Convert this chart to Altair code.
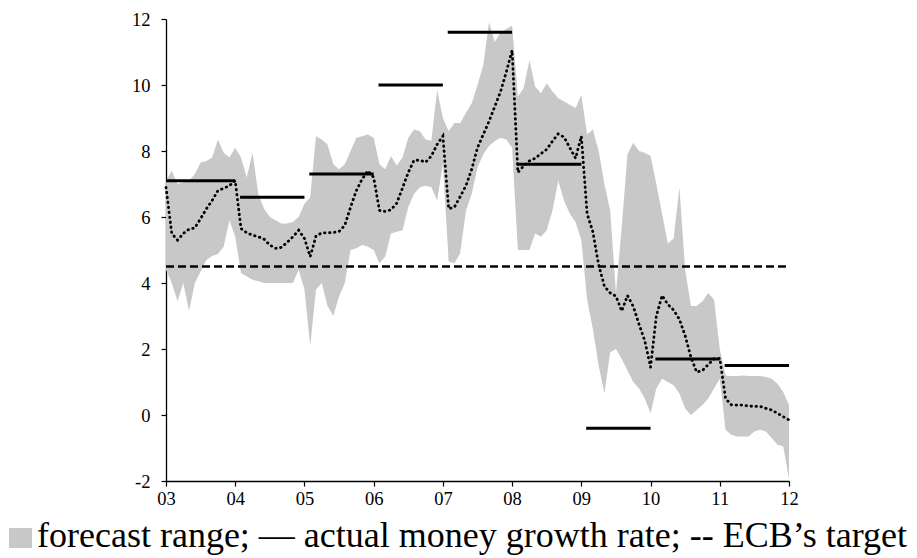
import altair as alt
import pandas as pd

# ---- data (monthly, Jan 2003 .. Jan 2012) ----
month_index = list(range(109))

forecast_high = [
    7.1, 7.4, 7.0, 7.05, 7.1, 7.3, 7.65, 7.7, 7.8, 8.35, 7.95, 7.8,
    8.1, 7.8, 7.2, 7.95, 6.7, 6.25, 6.0, 5.9, 5.8, 5.8, 5.85, 6.0,
    6.4, 6.6, 8.45, 8.35, 8.2, 7.6, 7.45, 7.6, 8.0, 8.4, 8.45, 8.5,
    8.4, 7.6, 7.45, 7.85, 7.55, 7.8, 8.4, 8.65, 8.6, 8.35, 8.3, 9.85,
    9.0, 8.6, 8.85, 8.85, 9.15, 9.45, 10.0, 10.6, 11.9, 11.3, 11.6, 11.7,
    11.8, 9.65, 9.9, 10.75, 9.95, 9.75, 10.05, 9.8, 9.6, 9.5, 9.4, 9.3,
    9.7, 8.5, 8.65, 8.0, 7.0, 6.2, 3.7, 5.7, 7.9, 8.25, 8.0, 7.95,
    7.85, 7.0, 6.1, 5.2, 5.35, 6.9, 4.4, 3.3, 3.3, 3.45, 3.7, 3.5,
    2.0, 1.2, 1.18, 1.18, 1.2, 1.18, 1.18, 1.18, 1.15, 1.1, 0.95, 0.7,
    0.3,
]

forecast_low = [
    4.4, 4.0, 3.45, 4.0, 3.15, 4.0, 4.35, 4.7, 4.82, 4.88, 5.1, 5.9,
    5.4, 4.3, 4.2, 4.1, 4.05, 4.0, 4.0, 4.0, 4.0, 4.0, 4.0, 4.4,
    3.8, 2.1, 3.8, 4.0, 3.3, 3.0, 3.6, 4.0, 5.0, 5.05, 5.15, 5.1,
    5.0, 4.6, 4.8, 5.5, 5.55, 5.6, 6.3, 6.7, 6.9, 6.95, 6.9, 6.5,
    7.6, 4.65, 4.6, 4.9, 6.2, 6.7, 7.5, 7.9, 8.15, 8.3, 8.4, 8.35,
    8.1, 5.0, 5.0, 5.0, 5.5, 5.4, 5.6, 6.2, 7.1, 6.5, 6.1, 5.85,
    5.3, 3.5, 2.6, 1.5, 0.65, 1.9, 2.0, 1.7, 1.35, 1.0, 0.8, 0.5,
    0.05, 0.8, 1.1, 1.0, 0.9, 0.65, 0.2, 0.0, 0.15, 0.3, 0.5, 0.8,
    1.1, -0.45, -0.6, -0.65, -0.65, -0.65, -0.5, -0.45, -0.5, -0.7, -0.9, -0.95,
    -1.95,
]

forecast_mean = [
    6.9, 5.5, 5.3, 5.5, 5.63, 5.67, 5.95, 6.25, 6.5, 6.8, 6.87, 6.95,
    7.1, 5.65, 5.52, 5.45, 5.4, 5.33, 5.15, 5.05, 5.08, 5.23, 5.4, 5.6,
    5.35, 4.8, 5.42, 5.52, 5.52, 5.53, 5.56, 5.75, 6.3, 6.8, 7.15, 7.4,
    7.2, 6.2, 6.17, 6.22, 6.42, 6.88, 7.35, 7.72, 7.72, 7.66, 7.85, 8.2,
    8.45, 6.25, 6.3, 6.62, 6.95, 7.45, 8.1, 8.5, 8.9, 9.35, 9.8, 10.4,
    11.05, 7.35, 7.55, 7.7, 7.78, 7.92, 8.05, 8.3, 8.52, 8.42, 8.1, 7.78,
    8.45, 6.1, 5.55, 4.55, 3.9, 3.7, 3.6, 3.15, 3.62, 3.29, 2.75, 2.25,
    1.45, 3.0, 3.62, 3.35, 3.18, 2.9, 2.4, 1.75, 1.3, 1.35, 1.53, 1.7,
    1.72, 0.5, 0.31, 0.3, 0.3, 0.27, 0.26, 0.26, 0.2, 0.15, 0.05, -0.05,
    -0.15,
]

years = [2003, 2004, 2005, 2006, 2007, 2008, 2009, 2010, 2011]
actual_growth = [7.1, 6.6, 7.3, 10.0, 11.6, 7.6, -0.4, 1.7, 1.5]
ecb_target = 4.5

x_ticks = [2003, 2004, 2005, 2006, 2007, 2008, 2009, 2010, 2011, 2012]
y_ticks = [-2, 0, 2, 4, 6, 8, 10, 12]
legend_text = "forecast range; \u2014 actual money growth rate; -- ECB\u2019s target"

# ---- tables ----
band = pd.DataFrame({
    "t": [2003 + k / 12 for k in month_index],
    "lo": forecast_low,
    "hi": forecast_high,
    "mean": forecast_mean,
})
segments = pd.DataFrame({
    "start": [y + (0.0 if y == 2003 else 0.07) for y in years],
    "end": [y + 1 for y in years],
    "v": actual_growth,
})
target_df = pd.DataFrame({"start": [2003], "end": [2012], "v": [ecb_target]})

FILL = "#c8c8c8"
FONT = "Liberation Serif"

xscale = alt.Scale(domain=[2003, 2012], nice=False, zero=False)
yscale = alt.Scale(domain=[-2, 12], nice=False, zero=False)

xaxis = alt.Axis(
    values=x_ticks,
    labelExpr="(datum.value < 2010 ? '0' : '') + (datum.value - 2000)",
    title=None, grid=False, labelPadding=3,
)
yaxis = alt.Axis(
    values=y_ticks, labelExpr="'' + datum.value",
    title=None, grid=False, labelPadding=11,
)

area = alt.Chart(band).mark_area(color=FILL, opacity=1).encode(
    x=alt.X("t:Q", scale=xscale, axis=xaxis),
    y=alt.Y("lo:Q", scale=yscale, axis=yaxis),
    y2="hi:Q",
)

target_rule = alt.Chart(target_df).mark_rule(
    color="black", strokeWidth=2.5, strokeDash=[8, 4]
).encode(
    x=alt.X("start:Q", scale=xscale, axis=xaxis),
    x2="end:Q",
    y=alt.Y("v:Q", scale=yscale, axis=yaxis),
)

actual_rule = alt.Chart(segments).mark_rule(color="black", strokeWidth=3).encode(
    x=alt.X("start:Q", scale=xscale, axis=xaxis),
    x2="end:Q",
    y=alt.Y("v:Q", scale=yscale, axis=yaxis),
)

dotted = alt.Chart(band).mark_line(
    color="black", strokeWidth=2.8, strokeDash=[0.5, 4.5], strokeCap="round"
).encode(
    x=alt.X("t:Q", scale=xscale, axis=xaxis),
    y=alt.Y("mean:Q", scale=yscale, axis=yaxis),
)

swatch = alt.Chart(pd.DataFrame({"k": [0]})).mark_rect(color=FILL).encode(
    x=alt.value(-157), x2=alt.value(-134), y=alt.value(509), y2=alt.value(529)
)

legend_label = alt.Chart(pd.DataFrame({"txt": [legend_text]})).mark_text(
    align="left", baseline="alphabetic", font=FONT, fontSize=36, color="black"
).encode(x=alt.value(-129), y=alt.value(528), text="txt:N")

chart = alt.layer(
    area, target_rule, actual_rule, dotted, swatch, legend_label
).properties(
    width=623, height=462,
    autosize=alt.AutoSizeParams(type="none"),
    padding={"left": 158, "top": 11, "right": 120, "bottom": 78},
).configure_view(
    stroke=None
).configure_axis(
    labelFont=FONT, labelFontSize=18.5, labelColor="black",
    domainColor="black", domainWidth=1.3,
    tickColor="black", tickWidth=1.2, tickSize=5,
    labelFlush=False, grid=False,
)

chart.save("out.html", embed_options={"renderer": "svg", "actions": False})
